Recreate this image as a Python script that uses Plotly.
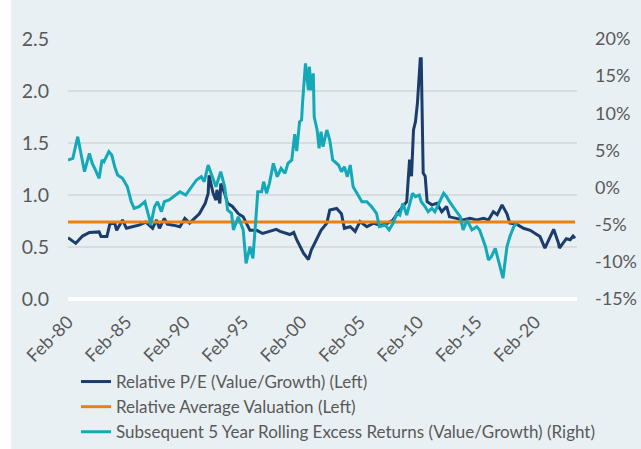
import plotly.graph_objects as go

# ---- Data ----
pe_dates = ["1980-02","1980-10","1981-05","1981-12","1982-10","1982-12","1983-06","1983-09","1984-02","1984-04",
            "1984-10","1985-02","1985-08","1986-03","1986-10","1987-05","1987-09","1987-12","1988-05","1988-08",
            "1989-02","1989-09","1990-02","1990-07","1990-12","1991-05","1991-11","1992-02","1992-03","1992-07",
            "1992-10","1992-11","1993-02","1993-03","1993-07","1993-10","1994-03","1994-09","1995-02","1995-05",
            "1995-09","1996-04","1996-10","1997-05","1997-12","1998-04","1998-10","1999-02","1999-06","1999-09",
            "2000-04","2000-09","2000-12","2001-05","2001-10","2002-04","2002-07","2003-02","2003-07","2003-10",
            "2004-04","2004-09","2005-02","2005-09","2006-04","2006-10","2007-05","2007-12","2008-07","2009-02",
            "2009-05","2009-07","2009-09","2009-11","2010-01","2010-04","2010-05","2010-07","2010-09","2010-11",
            "2011-04","2011-09","2012-02","2012-07","2012-10","2013-05","2013-12","2014-07","2015-02","2015-09",
            "2016-02","2016-07","2016-11","2017-04","2017-09","2017-12","2018-07","2019-02","2019-09","2020-02",
            "2020-07","2020-12","2021-05","2021-09","2022-02","2022-03","2022-10","2023-02","2023-05","2023-07"]
pe_values = [0.59,0.535,0.605,0.64,0.645,0.60,0.60,0.72,0.73,0.66,
             0.76,0.68,0.695,0.71,0.74,0.68,0.76,0.68,0.775,0.72,
             0.71,0.695,0.775,0.73,0.775,0.82,0.92,1.015,1.19,1.02,
             0.95,1.05,0.92,1.11,1.015,0.92,0.89,0.82,0.79,0.73,
             0.66,0.66,0.63,0.65,0.67,0.65,0.63,0.62,0.64,0.57,
             0.44,0.38,0.47,0.57,0.66,0.73,0.855,0.87,0.82,0.68,
             0.695,0.65,0.745,0.695,0.73,0.71,0.72,0.76,0.855,0.935,
             1.34,1.18,1.625,1.705,1.88,2.31,2.31,1.21,1.18,0.935,
             0.905,0.92,0.84,0.89,0.79,0.775,0.76,0.775,0.76,0.775,
             0.76,0.84,0.81,0.905,0.82,0.73,0.72,0.68,0.66,0.63,
             0.60,0.49,0.585,0.67,0.535,0.49,0.58,0.57,0.605,0.585]

avg_valuation = 0.74

ret_dates = ["1980-02","1980-07","1980-12","1981-03","1981-07","1981-12","1982-03","1982-07","1982-10","1983-01",
             "1983-03","1983-08","1983-11","1984-02","1984-05","1984-10","1985-03","1985-07","1985-10","1986-03",
             "1986-09","1987-02","1987-03","1987-07","1987-10","1988-02","1988-05","1988-10","1989-02","1989-09",
             "1990-03","1990-09","1991-02","1991-07","1991-10","1992-02","1992-07","1992-10","1993-03","1993-07",
             "1993-10","1994-02","1994-04","1994-09","1995-02","1995-05","1995-09","1995-12","1996-03","1996-05",
             "1996-09","1996-11","1997-02","1997-05","1997-09","1998-01","1998-05","1998-09","1998-12","1999-04",
             "1999-07","1999-09","1999-12","2000-02","2000-03","2000-06","2000-09","2000-10","2000-12","2001-02",
             "2001-03","2001-06","2001-08","2001-10","2001-12","2002-04","2002-07","2002-10","2003-04","2003-07",
             "2003-10","2004-01","2004-04","2004-07","2004-10","2005-04","2005-09","2006-02","2006-07","2006-10",
             "2007-04","2007-08","2007-12","2008-04","2008-07","2008-10","2009-02","2009-05","2009-08","2009-11",
             "2010-03","2010-05","2010-09","2010-12","2011-04","2011-07","2011-10","2012-04","2012-07","2012-10",
             "2013-04","2013-09","2013-12","2014-04","2014-09","2015-02","2015-05","2015-11","2016-02","2016-05",
             "2016-09","2016-12","2017-05","2017-09","2017-12","2018-04","2018-07"]
ret_values = [3.71,3.94,6.85,4.83,2.14,4.61,3.26,2.14,1.25,3.71,
              3.48,4.83,4.38,2.81,1.69,1.25,0.12,-1.9,-2.79,-2.58,
              -1.9,-4.37,-5.04,-2.58,-1.9,-3.25,-1.9,-1.67,-1.23,-0.56,
              -1.0,0.12,1.02,1.46,0.79,3.04,1.25,0.12,2.14,0.12,
              -3.02,-3.46,-5.7,-3.92,-5.7,-10.2,-7.96,-9.52,-4.37,-0.56,
              -0.56,0.79,-0.77,0.57,3.26,1.46,2.59,1.92,3.26,3.71,
              7.2,4.9,8.87,9.09,11.34,16.73,13.13,16.27,13.1,15.38,
              9.54,7.75,5.28,7.52,5.5,7.75,6.4,3.71,3.04,2.14,
              2.81,1.46,3.04,0.12,-0.56,-1.9,-1.9,-2.58,-3.46,-5.27,
              -5.04,-5.7,-4.81,-3.46,-3.7,-2.12,-3.7,-2.35,-0.77,-1.23,
              -1.0,-1.9,-2.58,-3.25,-2.79,-3.25,-2.35,-0.77,-1.23,-1.9,
              -3.02,-3.92,-5.7,-4.37,-5.7,-5.27,-5.7,-7.96,-9.75,-9.3,
              -8.18,-9.75,-12.2,-7.96,-6.6,-5.27,-4.81]

x_tick_vals = ["1980-02-01","1985-02-01","1990-02-01","1995-02-01","2000-02-01",
               "2005-02-01","2010-02-01","2015-02-01","2020-02-01"]
x_tick_text = ["Feb-80","Feb-85","Feb-90","Feb-95","Feb-00","Feb-05","Feb-10","Feb-15","Feb-20"]
left_ticks = [0.0, 0.5, 1.0, 1.5, 2.0, 2.5]
right_ticks = [-15, -10, -5, 0, 5, 10, 15, 20]
right_tick_text = [f"{v}%" for v in right_ticks]

NAVY = "#1B3D6C"
ORANGE = "#F0800C"
TEAL = "#14A9B8"
BG = "#E8F0F3"
TXT = "#595959"
FONT = "Lato, Calibri, Carlito, sans-serif"

W, H = 641, 449
ML, MR, MT, MB = 68, 64, 39, 150
PW, PH = W - ML - MR, H - MT - MB

fig = go.Figure()
fig.add_trace(go.Scatter(x=pe_dates, y=pe_values, mode="lines",
                         name="Relative P/E (Value/Growth) (Left)",
                         line=dict(color=NAVY, width=3)))
fig.add_trace(go.Scatter(x=pe_dates, y=[avg_valuation] * len(pe_dates), mode="lines",
                         name="Relative Average Valuation (Left)",
                         line=dict(color=ORANGE, width=3)))
fig.add_trace(go.Scatter(x=ret_dates, y=ret_values, mode="lines", yaxis="y2",
                         name="Subsequent 5 Year Rolling Excess Returns (Value/Growth) (Right)",
                         line=dict(color=TEAL, width=3)))

# white strip along the left edge of the picture, as in the reference
fig.add_shape(type="rect", xref="paper", yref="paper",
              x0=-ML / PW, x1=(11 - ML) / PW, y0=-MB / PH, y1=(PH + MT) / PH,
              fillcolor="white", line=dict(width=0), layer="above")

fig.update_layout(
    width=W, height=H,
    paper_bgcolor=BG, plot_bgcolor=BG,
    margin=dict(l=ML, r=MR, t=MT, b=MB, autoexpand=False),
    font=dict(family=FONT, color=TXT, size=17),
    xaxis=dict(type="date", range=["1980-02-01", "2023-09-01"],
               tickvals=x_tick_vals, ticktext=x_tick_text, tickangle=-45,
               showgrid=False, showline=False, zeroline=False, ticks="",
               tickfont=dict(size=18, color=TXT), ticklabelstandoff=8),
    yaxis=dict(range=[0, 2.5], tickvals=left_ticks, tickformat=".1f",
               showgrid=True, gridcolor="#D6DCDF", gridwidth=1.5,
               zeroline=True, zerolinecolor="#FFFFFF", zerolinewidth=4,
               showline=False, ticks="", tickfont=dict(size=19.5, color=TXT),
               ticklabelstandoff=18),
    yaxis2=dict(range=[-15, 20], tickvals=right_ticks, ticktext=right_tick_text,
                overlaying="y", side="right", showgrid=False, zeroline=False,
                showline=False, ticks="", tickfont=dict(size=18, color=TXT),
                ticklabelstandoff=17),
    legend=dict(orientation="v", x=8 / PW, xanchor="left",
                yref="container", y=1 - 364 / H, yanchor="top",
                bgcolor="rgba(0,0,0,0)", font=dict(size=17, color=TXT),
                tracegroupgap=0, itemwidth=30),
    showlegend=True,
)

fig.write_html("out.html",
               config={"displayModeBar": False},
               post_script="document.body.style.margin='0';document.body.style.padding='0';")
